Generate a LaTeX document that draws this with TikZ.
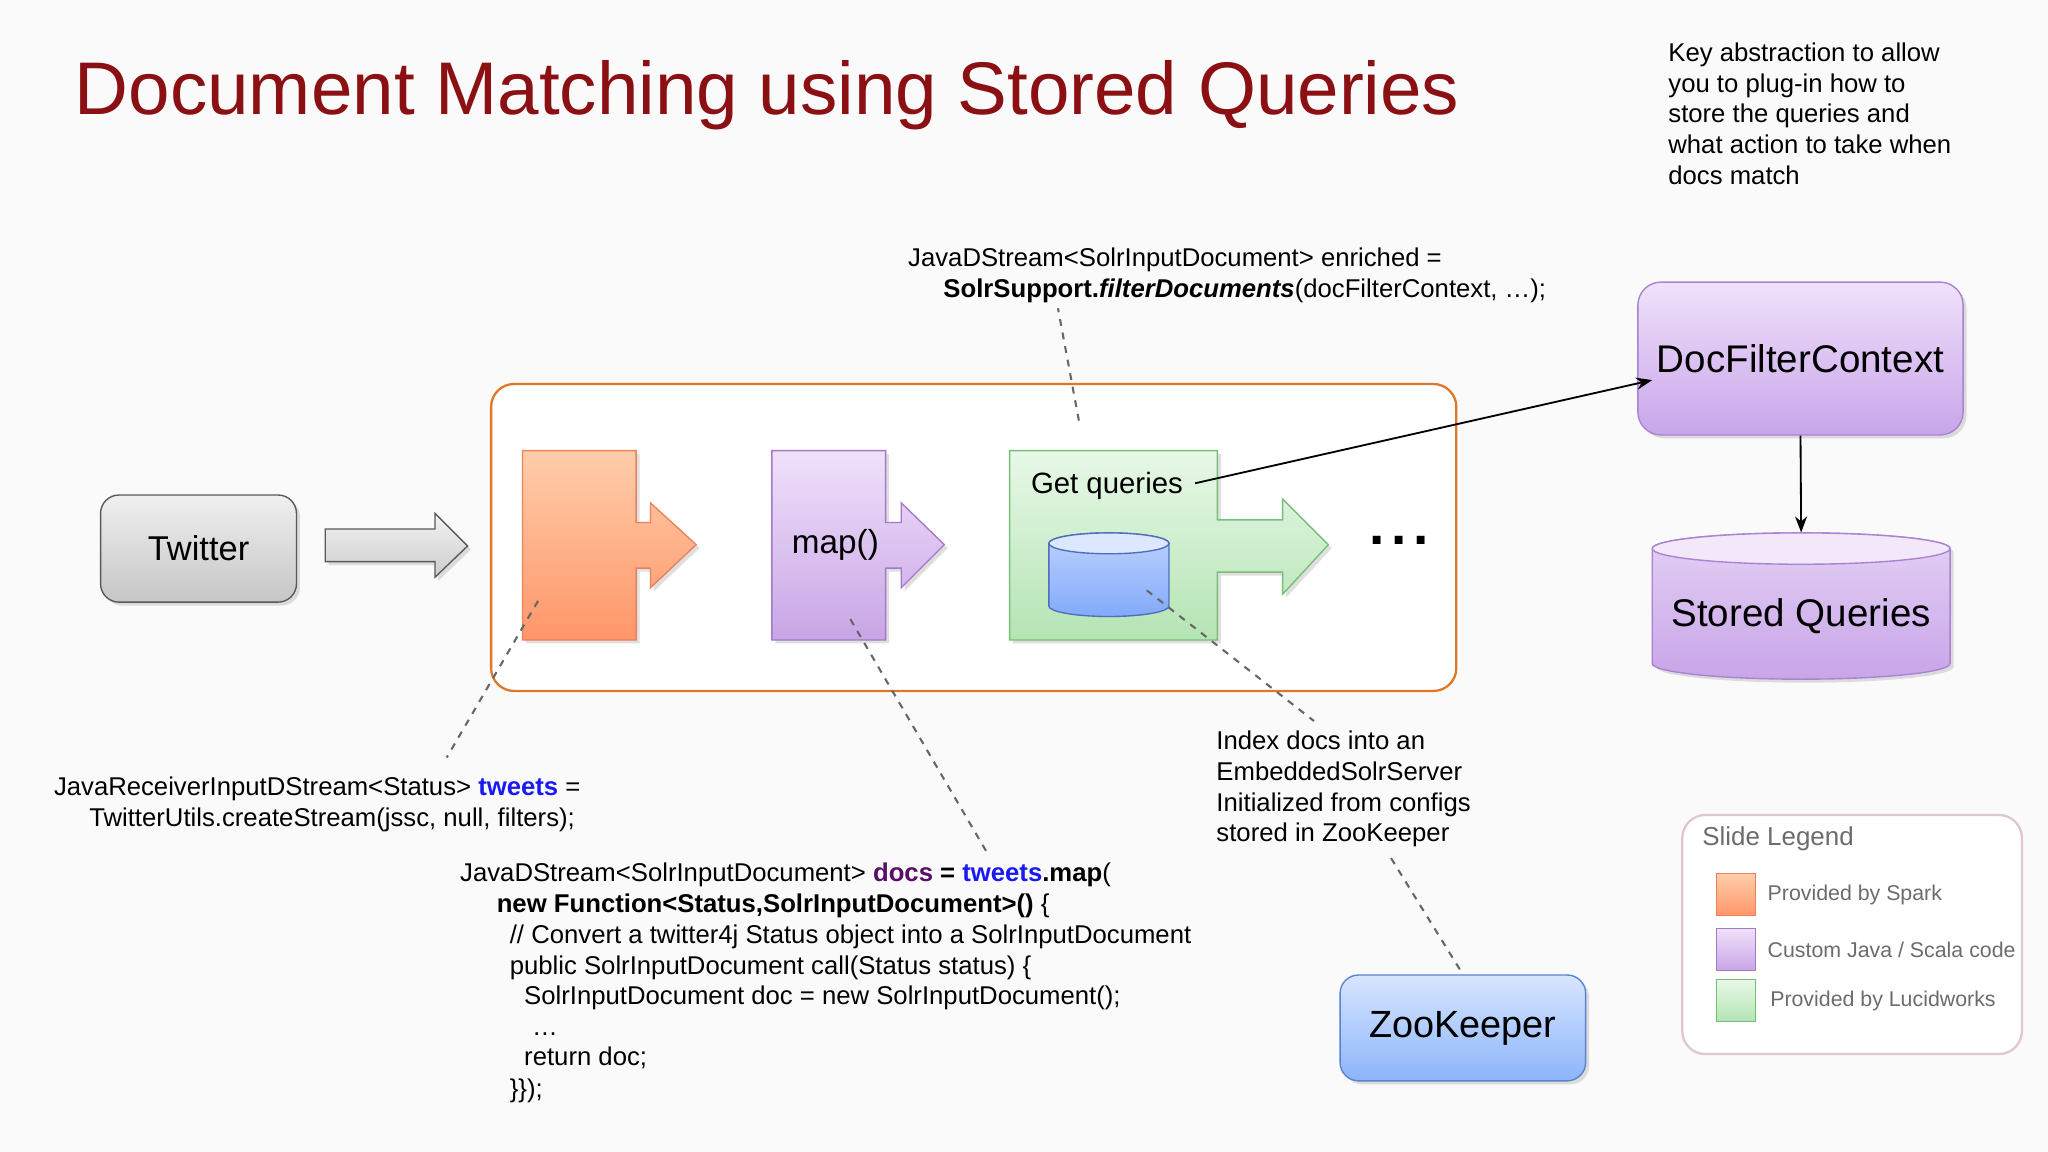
\documentclass[tikz,border=0pt]{standalone}
\usepackage{fontspec}
\setmainfont{Liberation Sans}
\usetikzlibrary{shapes.geometric,arrows.meta,shadows}
\begin{document}
\begin{tikzpicture}[x=0.02cm,y=-0.02cm,
  txt/.style={anchor=base west,inner sep=0pt,font=\fontsize{11.2}{13}\selectfont},
  dline/.style={draw=gray!80!black,dashed,line width=0.9pt},
  conn/.style={draw=black,line width=0.8pt,-{Stealth[length=7pt]}},
  blk/.style={line width=0.6pt,drop shadow={opacity=0.25,shadow xshift=1.5pt,shadow yshift=-1.5pt}},
  leg/.style={anchor=west,inner sep=0pt,text=gray!85!black,font=\fontsize{9.3}{11}\selectfont}]
\useasboundingbox (0,0) rectangle (1568,882);
\fill[gray!4] (0,0) rectangle (1568,882);
% title
\node[txt,font=\fontsize{32.5}{36}\selectfont,text={rgb,255:red,139;green,16;blue,20}] (title) at (57,88) {Document Matching using Stored Queries};
\node[txt] (key) at (1277,47) {Key abstraction to allow};
\node[txt] (key2) at (1277,70.5) {you to plug-in how to};
\node[txt] (key3) at (1277,94) {store the queries and};
\node[txt] (key4) at (1277,117.5) {what action to take when};
\node[txt] (key5) at (1277,141) {docs match};
% container
\draw[rounded corners=10pt,draw={rgb,255:red,222;green,120;blue,40},line width=1pt,fill=white] (376,294) rectangle (1115,529);
% Twitter
\node[blk,draw=gray!70!black,rounded corners=8pt,top color=gray!12,bottom color=gray!45,minimum width=150*0.02cm,minimum height=82*0.02cm,font=\fontsize{15}{17}\selectfont] (tw) at (152,420) {Twitter};
\draw[blk,draw=gray!70!black,top color=gray!10,bottom color=gray!40] (249,405)--(333,405)--(333,393)--(358,418)--(333,442)--(333,430)--(249,430)--cycle;
% orange
\draw[blk,draw={rgb,255:red,235;green,130;blue,90},top color={rgb,255:red,255;green,205;blue,170},bottom color={rgb,255:red,255;green,150;blue,105}]
 (400,345)--(487,345)--(487,400)--(498,400)--(498,385)--(533,417)--(498,450)--(498,435)--(487,435)--(487,490)--(400,490)--cycle;
% purple
\draw[blk,draw={rgb,255:red,165;green,120;blue,200},top color={rgb,255:red,240;green,225;blue,250},bottom color={rgb,255:red,200;green,165;blue,230}]
 (591,345)--(678,345)--(678,400)--(690,400)--(690,385)--(723,417)--(690,450)--(690,435)--(678,435)--(678,490)--(591,490)--cycle;
\node[txt,font=\fontsize{14.5}{16}\selectfont] (map) at (606,424) {map()};
% green
\draw[blk,draw={rgb,255:red,120;green,190;blue,120},top color={rgb,255:red,232;green,248;blue,232},bottom color={rgb,255:red,180;green,228;blue,180}]
 (773,345)--(932,345)--(932,398)--(982,398)--(982,382)--(1017,417)--(982,455)--(982,438)--(932,438)--(932,490)--(773,490)--cycle;
\node[txt,font=\fontsize{12.8}{14}\selectfont] (gq) at (789,378) {Get queries};
% small cylinder
\draw[draw={rgb,255:red,80;green,110;blue,190},line width=0.6pt,top color={rgb,255:red,190;green,210;blue,255},bottom color={rgb,255:red,130;green,170;blue,250}]
 (803,416) -- (803,464) arc[start angle=180,end angle=0,x radius=46,y radius=8] -- (895,416) arc[start angle=0,end angle=-180,x radius=46,y radius=8] -- cycle;
\draw[draw={rgb,255:red,80;green,110;blue,190},line width=0.6pt,fill={rgb,255:red,220;green,232;blue,255}] (849,416) ellipse[x radius=46,y radius=8];
\coordinate (db) at (849,440);
\node[font=\fontsize{24}{26}\selectfont\bfseries,inner sep=0pt] (dots) at (1071,414) {.\hspace{0.12em}.\hspace{0.12em}.};
% DocFilterContext
\node[blk,draw={rgb,255:red,170;green,130;blue,210},rounded corners=10pt,top color={rgb,255:red,240;green,225;blue,250},bottom color={rgb,255:red,200;green,165;blue,235},minimum width=249*0.02cm,minimum height=117*0.02cm,font=\fontsize{16.8}{18}\selectfont] (dfc) at (1378.5,274.5) {DocFilterContext};
% Stored queries cylinder
\draw[blk,draw={rgb,255:red,170;green,130;blue,210},top color={rgb,255:red,228;green,208;blue,245},bottom color={rgb,255:red,200;green,165;blue,232}]
 (1265,420) -- (1265,508) arc[start angle=180,end angle=0,x radius=114,y radius=12] -- (1493,420) arc[start angle=0,end angle=-180,x radius=114,y radius=12] -- cycle;
\draw[draw={rgb,255:red,170;green,130;blue,210},line width=0.6pt,fill={rgb,255:red,242;green,232;blue,250}] (1379,420) ellipse[x radius=114,y radius=12];
\node[minimum width=228*0.02cm,minimum height=100*0.02cm] (sq) at (1379,458) {};
\node[font=\fontsize{16.8}{18}\selectfont] (sqt) at (1379,472) {Stored Queries};
% ZooKeeper
\node[blk,draw={rgb,255:red,90;green,130;blue,210},rounded corners=8pt,top color={rgb,255:red,215;green,230;blue,255},bottom color={rgb,255:red,140;green,180;blue,250},minimum width=188*0.02cm,minimum height=81*0.02cm,font=\fontsize{16.5}{18}\selectfont] (zk) at (1120,787) {ZooKeeper};
% connectors
\coordinate (gqe) at (915,370);
\coordinate (dfcw) at (1265,291);
\draw[conn] (gqe) -- (dfcw);
\draw[conn] (dfc.south) -- (sq.north);
\coordinate (d1a) at (826,322); \coordinate (d1b) at (810,236);
\coordinate (d2a) at (412,460); \coordinate (d2b) at (342,580);
\coordinate (d3a) at (651,474); \coordinate (d3b) at (757,655);
\coordinate (d4a) at (878,452); \coordinate (d4b) at (1006,552);
\coordinate (d5a) at (1065,657);
\draw[dline] (d1a)--(d1b);
\draw[dline] (d2a)--(d2b);
\draw[dline] (d3a)--(d3b);
\draw[dline] (d4a)--(d4b);
\draw[dline] (d5a)--(zk.north);
% texts
\node[txt] (t1) at (695,204) {JavaDStream<SolrInputDocument> enriched =};
\node[txt] (t2) at (722,228) {\textbf{SolrSupport.\textit{filterDocuments}}(docFilterContext, …);};
\node[txt] (t3) at (41,609) {JavaReceiverInputDStream<Status> \textbf{\color[rgb]{0.1,0.1,0.95}tweets} =};
\node[txt] (t4) at (68,633) {TwitterUtils.createStream(jssc, null, filters);};
\node[txt] (t5) at (931,574) {Index docs into an};
\node[txt] (t6) at (931,597.5) {EmbeddedSolrServer};
\node[txt] (t7) at (931,621) {Initialized from configs};
\node[txt] (t8) at (931,644.5) {stored in ZooKeeper};
\node[txt] (c1) at (352,675) {JavaDStream<SolrInputDocument> \textbf{\color[rgb]{0.35,0.05,0.4}docs} \textbf{= \color[rgb]{0.1,0.1,0.95}tweets}\textbf{.map}(};
\node[txt] (c2) at (380,699) {\textbf{new Function<Status,SolrInputDocument>() }\{};
\node[txt] (c3) at (390,722) {// Convert a twitter4j Status object into a SolrInputDocument};
\node[txt] (c4) at (390,746) {public SolrInputDocument call(Status status) \{};
\node[txt] (c5) at (401,769) {SolrInputDocument doc = new SolrInputDocument();};
\node[txt] (c6) at (407,793) {…};
\node[txt] (c7) at (401,816) {return doc;};
\node[txt] (c8) at (390,840) {\}\});};
% legend
\draw[rounded corners=10pt,draw={rgb,255:red,225;green,200;blue,200},line width=1pt,fill=white] (1288,624) rectangle (1548,807);
\node[leg,font=\fontsize{11.3}{13}\selectfont] (lt) at (1303,642) {Slide Legend};
\node[draw={rgb,255:red,235;green,130;blue,90},top color={rgb,255:red,255;green,205;blue,170},bottom color={rgb,255:red,255;green,150;blue,105},minimum width=30*0.02cm,minimum height=32*0.02cm,inner sep=0pt] (l1) at (1329,685) {};
\node[leg] (l1t) at (1353,685) {Provided by Spark};
\node[draw={rgb,255:red,165;green,120;blue,200},top color={rgb,255:red,240;green,225;blue,250},bottom color={rgb,255:red,200;green,165;blue,230},minimum width=30*0.02cm,minimum height=32*0.02cm,inner sep=0pt] (l2) at (1329,727) {};
\node[leg] (l2t) at (1353,727) {Custom Java / Scala code};
\node[draw={rgb,255:red,120;green,190;blue,120},top color={rgb,255:red,232;green,248;blue,232},bottom color={rgb,255:red,180;green,228;blue,180},minimum width=30*0.02cm,minimum height=32*0.02cm,inner sep=0pt] (l3) at (1329,766) {};
\node[leg] (l3t) at (1355,766) {Provided by Lucidworks};
\end{tikzpicture}
\end{document}
